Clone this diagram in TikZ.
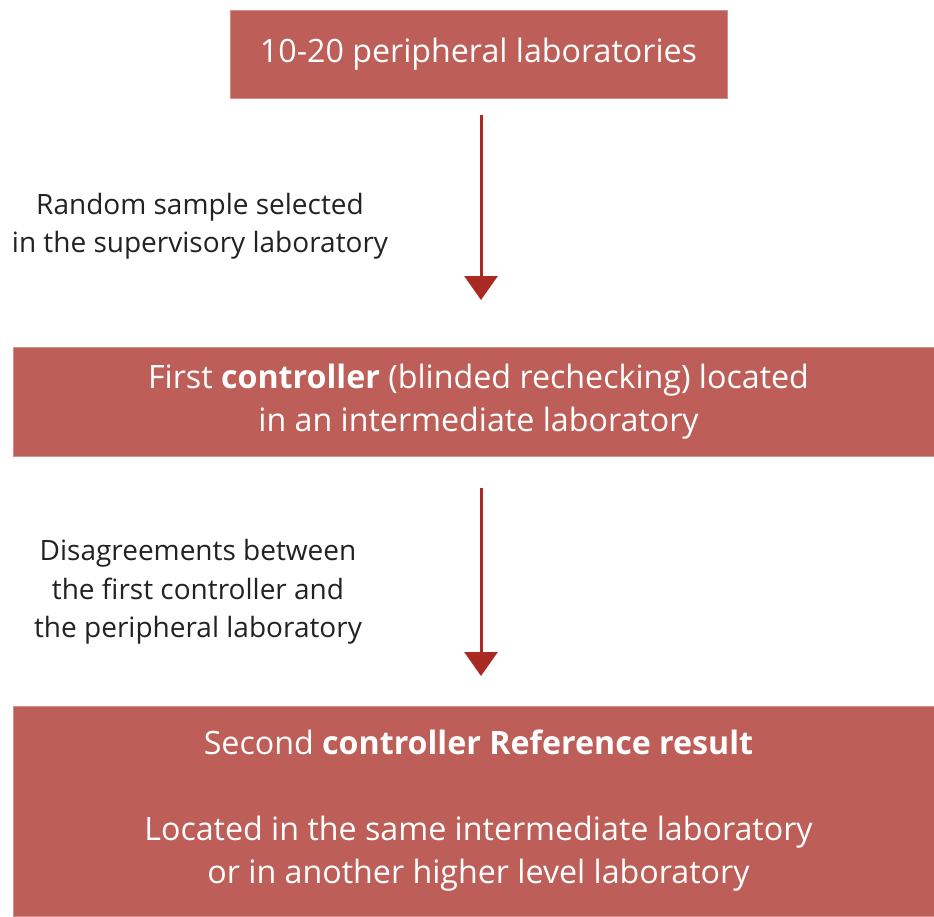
\documentclass[tikz,border=0pt]{standalone}
\usepackage{xcolor}
\usepackage{fontspec}
\setmainfont{Open Sans}
\usetikzlibrary{arrows.meta}
\definecolor{boxred}{RGB}{190,94,88}
\definecolor{boxedge}{RGB}{214,142,136}
\definecolor{arrowred}{RGB}{169,42,35}
\definecolor{labelgray}{RGB}{34,34,34}

\begin{document}
\begin{tikzpicture}[
		x=1pt, y=-1pt,
		stage/.style={rectangle, draw=boxedge, line width=1pt, fill=boxred, text=white, align=center, inner sep=0pt, font=\fontsize{32.2}{43}\selectfont},
		note/.style={align=center, text=labelgray, font=\fontsize{28}{38.5}\selectfont},
		arrow/.style={-{Triangle[width=33pt,length=24pt]}, draw=arrowred, line width=3pt}
	]
		\useasboundingbox (0,0) rectangle (934,916);

		% Stages
		\node[stage, minimum width=497pt, minimum height=88pt] (labs) at (478.5,54) {10-20 peripheral laboratories};
		\node[stage, minimum width=931pt, minimum height=109pt] (first) at (478.5,401.5) {First \textbf{controller} (blinded rechecking) located\\in an intermediate laboratory};
		\node[stage, minimum width=931pt, minimum height=210pt] (second) at (478.5,811) {Second \textbf{controller Reference result}\\[43pt]Located in the same intermediate laboratory\\or in another higher level laboratory};

		% Arrow ends
		\coordinate (a1s) at (481,115);
		\coordinate (a1e) at (481,300);
		\coordinate (a2s) at (481,488);
		\coordinate (a2e) at (481,676);

		% Arrows
		\draw[arrow] (a1s) -- (a1e);
		\draw[arrow] (a2s) -- (a2e);

		% Labels
		\node[note] (sample) at (200,226) {Random sample selected\\in the supervisory laboratory};
		\node[note] (disagree) at (198,592) {Disagreements between\\the first controller and\\the peripheral laboratory};
	\end{tikzpicture}
\end{document}
